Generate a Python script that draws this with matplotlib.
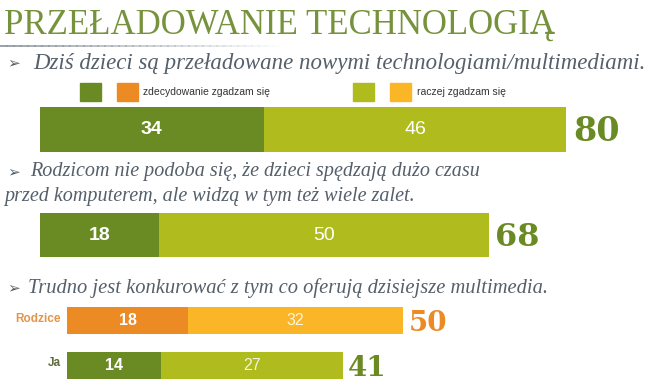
import matplotlib
matplotlib.use('Agg')
import matplotlib.pyplot as plt

W, H = 655, 392

title = 'PRZEŁADOWANIE TECHNOLOGIĄ'
q1 = 'Dziś dzieci są przeładowane nowymi technologiami/multimediami.'
q2a = 'Rodzicom nie podoba się, że dzieci spędzają dużo czasu'
q2b = 'przed komputerem, ale widzą w tym też wiele zalet.'
q3 = 'Trudno jest konkurować z tym co oferują dzisiejsze multimedia.'
legend_labels = ['zdecydowanie zgadzam się', 'raczej zgadzam się']

strong = [34, 18]        # zdecydowanie
rather = [46, 50]        # raczej
groups = ['Rodzice', 'Ja']
strong3 = [18, 14]
rather3 = [32, 27]

DARK = '#6a8b24'
LIGHT = '#b0bc1e'
ORANGE = '#ec8a24'
YELLOW = '#fbb628'
TXT = '#55606b'
SERIF = ['Liberation Serif', 'DejaVu Serif']
NUMF = ['DejaVu Serif']
SANS = ['Liberation Sans', 'DejaVu Sans']

fig = plt.figure(figsize=(W / 100, H / 100), dpi=100)
fig.patch.set_facecolor('white')

def fx(x):
    return x / W

def fy(y):
    return 1 - y / H

def ax_px(l, t, w, h):
    a = fig.add_axes([l / W, 1 - (t + h) / H, w / W, h / H])
    a.set_axis_off()
    return a

# title + fading rule
fig.text(fx(4), fy(25), title, family=SERIF, fontsize=25, color='#76923c', va='center')
n = 40
for i in range(n):
    fig.add_artist(plt.Line2D([fx(i * 7), fx(i * 7 + 7)], [fy(46), fy(46)],
                              color='#8a949c', lw=1.2, alpha=max(0, 1 - i / n)))

def bullet(x, y, txt, xt, fs):
    fig.text(fx(x), fy(y), '➢', family=['DejaVu Sans'], fontsize=11, color=TXT, va='center')
    fig.text(fx(xt), fy(y), txt, family=SERIF, style='italic', fontsize=fs, color=TXT, va='center')

bullet(7, 63, q1, 33, 16.5)
bullet(7, 172, q2a, 30, 14.5)
fig.text(fx(4), fy(197), q2b, family=SERIF, style='italic', fontsize=14.5, color=TXT, va='center')
bullet(7, 288, q3, 28, 14.8)

# legend
lg = ax_px(0, 80, W, 24)
lg.set_xlim(0, W)
lg.set_ylim(0, 1)
for x0, c in zip([80, 117, 353, 390], [DARK, ORANGE, LIGHT, YELLOW]):
    lg.add_patch(plt.Rectangle((x0, 0.12), 21, 0.76, color=c))
lg.text(143, 0.5, legend_labels[0], fontsize=7.5, family=SANS, color='#333333', va='center')
lg.text(417, 0.5, legend_labels[1], fontsize=7.5, family=SANS, color='#333333', va='center')

# bars for first two questions
rows = [(107, 45, 6.58, 24), (213, 44, 6.6, 23)]
for i, (top, h, scale, fs) in enumerate(rows):
    a = ax_px(40, top, W - 40, h)
    a.set_xlim(0, (W - 40) / scale)
    a.set_ylim(-0.5, 0.5)
    a.barh(0, strong[i], height=1, color=DARK)
    a.barh(0, rather[i], left=strong[i], height=1, color=LIGHT)
    a.text(strong[i] / 2, 0, str(strong[i]), color='white', fontsize=14, weight='bold',
           family=SANS, ha='center', va='center')
    a.text(strong[i] + rather[i] / 2, 0, str(rather[i]), color='white', fontsize=14,
           family=SANS, ha='center', va='center')
    a.text(strong[i] + rather[i] + 1, -0.05, str(strong[i] + rather[i]), color=DARK,
           fontsize=fs, weight='bold', family=NUMF, ha='left', va='center')

# third question: two groups
rows3 = [(307, 27, ORANGE, YELLOW, ORANGE, '#e39549'), (352, 27, DARK, LIGHT, DARK, '#5e6b3c')]
for i, (top, h, c1, c2, ct, cl) in enumerate(rows3):
    a = ax_px(67, top, W - 67, h)
    a.set_xlim(0, (W - 67) / 6.72)
    a.set_ylim(-0.5, 0.5)
    a.barh(0, strong3[i], height=1, color=c1)
    a.barh(0, rather3[i], left=strong3[i], height=1, color=c2)
    a.text(strong3[i] / 2, 0, str(strong3[i]), color='white', fontsize=11.5, weight='bold',
           family=SANS, ha='center', va='center')
    a.text(strong3[i] + rather3[i] / 2, 0, str(rather3[i]), color='white', fontsize=11.5,
           family=SANS, ha='center', va='center', alpha=0.85)
    a.text(strong3[i] + rather3[i] + 0.8, -0.1, str(strong3[i] + rather3[i]), color=ct,
           fontsize=20, weight='bold', family=NUMF, ha='left', va='center')
    fig.text(fx(61), fy(top + h / 2 - 2), groups[i], color=cl, fontsize=8.5, weight='bold',
             family=SANS, ha='right', va='center')

fig.savefig('out.png', dpi=100)
